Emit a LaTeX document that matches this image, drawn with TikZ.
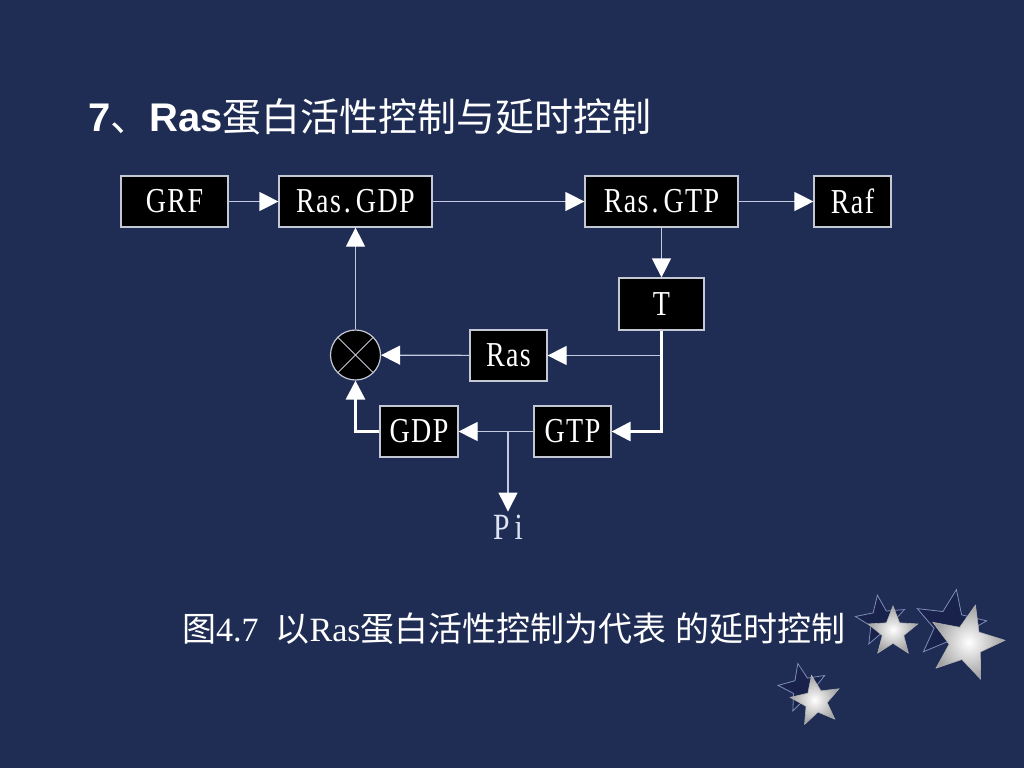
\documentclass[tikz,border=0pt]{standalone}
\usepackage{fontspec}
\setmainfont{Liberation Serif}
\newfontfamily\cjk{Noto Sans CJK SC}
\newfontfamily\boxfont[FakeStretch=0.8,LetterSpace=4]{Liberation Serif}
\newfontfamily\titlefont{Liberation Sans}
\usetikzlibrary{arrows.meta,shapes.geometric}
\definecolor{bg}{HTML}{1F2D55}
\definecolor{linec}{HTML}{C3CAE0}
\definecolor{boxline}{HTML}{C4C8D4}
\definecolor{pic}{HTML}{DCE3F2}
\definecolor{shadowline}{HTML}{7F8CB8}
\definecolor{shadowfill}{HTML}{18224A}
\tikzset{
  blk/.style={draw=boxline, line width=1.2pt, fill=black, text=white, inner sep=0pt,
    minimum height=51pt, font=\boxfont\fontsize{35}{40}\selectfont},
  tip/.style={-{Triangle[length=19pt,width=19pt,color=white]}},
  thinline/.style={draw=linec, line width=1.2pt, tip},
  thickline/.style={draw=white, line width=3pt, tip},
  mult/.style={circle, draw=boxline, line width=1.2pt, fill=black, minimum size=50pt, inner sep=0pt},
  deco/.style={star, star points=5, star point ratio=2.3, inner sep=0pt, shade,
    inner color=white, outer color=gray!75, draw=gray!60, line width=0.6pt},
  decoshadow/.style={star, star points=5, star point ratio=2.3, inner sep=0pt,
    draw=shadowline, fill=shadowfill, line width=0.8pt}
}
\begin{document}
\begin{tikzpicture}[x=1pt,y=-1pt]
\useasboundingbox[fill=bg] (0,0) rectangle (1024,768);

% title
\node[anchor=base west, inner sep=0pt, text=white] (title) at (88,131)
  {\titlefont\bfseries\fontsize{40}{46}\selectfont 7{\cjk\mdseries\fontsize{39}{46}\selectfont 、}Ras{\cjk\mdseries\fontsize{39}{46}\selectfont 蛋白活性控制与延时控制}};

% boxes
\node[blk, minimum width=107pt] (grf) at (174.5,201.5) {GRF};
\node[blk, minimum width=153pt] (rgdp) at (355.5,201.5) {Ras\kern3pt.\kern5pt GDP};
\node[blk, minimum width=153pt] (rgtp) at (661.5,201.5) {Ras\kern3pt.\kern5pt GTP};
\node[blk, minimum width=77pt] (raf) at (852.5,201.5) {Raf};
\node[blk, minimum width=85pt, minimum height=52pt] (t) at (661.5,304) {T};
\node[blk, minimum width=77pt] (ras) at (508.5,355.5) {Ras};
\node[blk, minimum width=77pt] (gtp) at (572.5,431.5) {GTP};
\node[blk, minimum width=78pt] (gdp) at (419,431.5) {GDP};
\node[mult] (m) at (355.5,355) {};
\draw[boxline, line width=1pt] (m.45) -- (m.225) (m.135) -- (m.315);
\node[text=pic, inner sep=3pt, font=\boxfont\fontsize{37}{42}\selectfont] (pi) at (508,527) {P\kern5pt i};

% connectors
\draw[thinline] (grf) -- (rgdp);
\draw[thinline] (rgdp) -- (rgtp);
\draw[thinline] (rgtp) -- (raf);
\draw[thinline] (rgtp) -- (t);
\coordinate (jr) at (t.south |- ras.east);
\draw[thinline] (jr) -- (ras.east);
\draw[thickline] (t.south) |- (gtp.east);
\draw[thinline] (ras) -- (m);
\draw[thinline] (gtp) -- (gdp);
\coordinate (jp) at (pi |- gtp.west);
\draw[thinline] (jp) -- (pi.north);
\draw[thickline] (gdp.west) -| (m.south);
\draw[thinline] (m.north) -- (rgdp.south);

% caption
\node[anchor=base west, inner sep=0pt, text=white] (cap) at (182,641)
  {\fontsize{34}{40}\selectfont{\cjk 图}4.7\ \ {\cjk 以}Ras{\cjk 蛋白活性控制为代表} {\cjk 的延时控制}};

% decorative stars
\node[decoshadow, minimum size=52pt, rotate=8] (s1s) at (881,621) {};
\node[decoshadow, minimum size=74pt, rotate=-10] (s2s) at (950,626) {};
\node[decoshadow, minimum size=50pt, rotate=12] (s3s) at (803,688) {};
\node[deco, minimum size=52pt] (s1) at (893,632) {};
\node[deco, minimum size=78pt, rotate=-14] (s2) at (966,643) {};
\node[deco, minimum size=52pt, rotate=10] (s3) at (816,701) {};
\end{tikzpicture}
\end{document}
